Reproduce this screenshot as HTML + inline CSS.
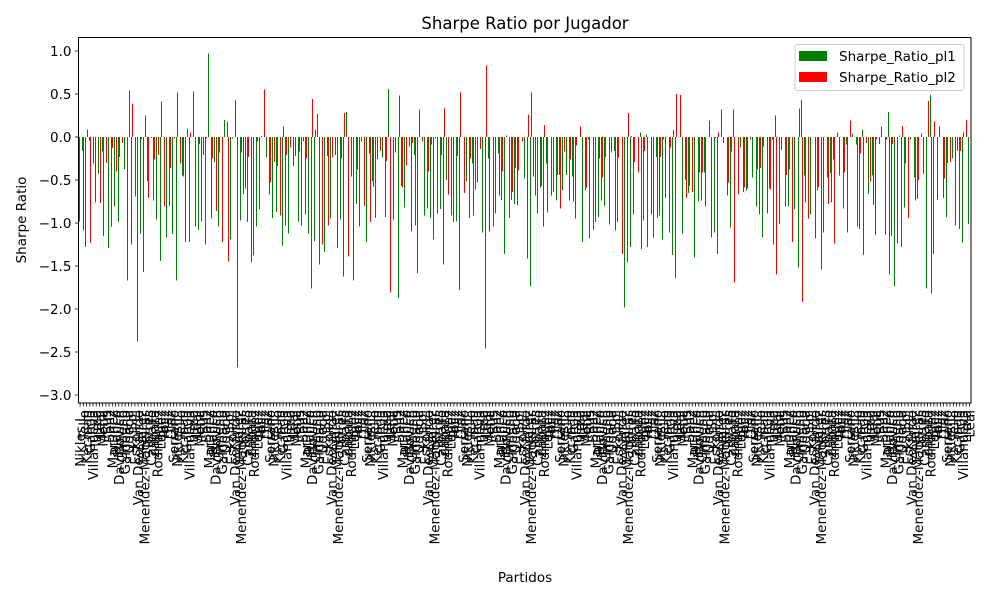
<!DOCTYPE html>
<html><head><meta charset="utf-8">
<style>
body{margin:0;background:#fff;}
svg{display:block;font-family:"DejaVu Sans","Liberation Sans",sans-serif;}
</style></head>
<body>
<svg id="chart" width="1000" height="600" viewBox="0 0 1000 600" xmlns="http://www.w3.org/2000/svg">
<rect width="1000" height="600" fill="#fff"/>
<text x="525" y="29" font-size="16.5" text-anchor="middle" fill="#000">Sharpe Ratio por Jugador</text>
<text x="0" y="0" font-size="13.5" text-anchor="middle" transform="translate(26,220) rotate(-90)">Sharpe Ratio</text>
<text x="525" y="582" font-size="13.5" text-anchor="middle">Partidos</text>
<g id="bars" shape-rendering="crispEdges"></g>
<g id="xticks"></g>
<g id="yticks"></g>
<rect x="78.5" y="37.5" width="892.5" height="365.5" fill="none" stroke="#000" stroke-width="1"/>
<g>
<rect x="795" y="44.5" width="169" height="46" rx="2" fill="#fff" fill-opacity="0.8" stroke="#ccc"/>
<rect x="799" y="51" width="28" height="10" fill="#008000"/>
<text x="839" y="61" font-size="13.5">Sharpe_Ratio_pl1</text>
<rect x="799" y="72" width="28" height="10" fill="#ff0000"/>
<text x="839" y="82" font-size="13.5">Sharpe_Ratio_pl2</text>
</g>
</svg>
<script>
const pl1 = [-0.98,-0.16,-1.28,-0.04,0,-0.76,-0.43,-0.17,0,-1.29,-1.04,-0.81,-0.99,0,-0.37,-1.67,-1.25,0,-2.38,-1.12,-1.57,-0.51,0,-0.74,-0.96,-1.44,0,-1.17,-0.80,-1.13,-1.67,0,-0.45,-1.22,-1.22,0,-1.04,-1.08,-0.98,-1.25,0.97,-0.95,-0.29,-1.04,0,0.20,0.18,-1.19,0,-2.68,-0.97,-0.66,-0.99,0,-1.38,-1.04,-0.84,0,-0.23,-0.67,-0.94,-0.87,
0,-1.26,-1.03,-1.12,0,-0.22,-0.98,-1.03,-0.90,-1.12,-1.76,-1.21,0.27,0,-1.34,-0.22,-0.95,0,-1.29,-0.96,-1.62,0.29,0,-1.67,-0.78,-1.04,0,-1.22,-0.19,-0.51,-0.94,0,-0.24,-0.93,0.56,0,-0.18,-1.87,-0.57,-0.82,0,-1.10,-0.21,-1.58,0,-0.91,-0.83,-0.94,-1.19,-0.89,-0.84,-1.48,-0.50,0,-0.99,-0.98,-1.78,0,-0.51,-0.94,-0.31,-0.61,0,-1.11,-2.46,-0.25,0,-0.89,-0.19,-0.73,-1.36,
0,-0.73,-0.78,-0.79,0,-0.48,-1.41,-1.74,-0.46,-0.89,-0.59,-1.04,-0.31,0,-0.64,-0.74,-0.44,-0.62,-0.44,-0.74,-0.46,-0.95,0,-1.22,-0.62,-0.03,0,-0.99,-0.93,-0.74,-0.80,0,-0.18,-0.16,-0.99,0,-1.98,-1.46,-1.28,-0.90,0,0.05,-0.97,0.03,0,-1.17,-0.23,-0.91,-1.19,-0.71,-1.11,-1.37,-1.64,0,-1.12,-0.50,-0.65,0,-1.40,-0.75,-0.74,-0.41,0,-1.17,-1.11,-1.36,0,-0.07,-0.68,-1.05,
0.32,0,-0.12,-0.64,-0.62,0,-0.47,-0.81,-0.90,-1.16,0,-0.60,-0.03,0.25,0,-0.15,-0.81,-0.80,0,-0.84,-1.52,0.43,-0.45,0,-0.90,0,-0.62,0,-1.11,-0.47,-0.42,-0.26,0,-0.45,-0.83,-0.09,0,0.04,-0.09,-1.07,0.09,0,-0.66,-0.45,-1.14,0,0.12,-1.14,0.29,-1.15,-1.74,-1.24,-1.28,-0.82,0,-0.03,-0.47,-0.72,0,-0.43,-1.76,0.49,-1.36,0,0.12,-0.71,-0.93,0,-0.25,-1.03,-1.07,-1.23,0,-1.01];
const pl2 = [0,-1.09,0.09,-1.23,-0.31,0,-0.77,-1.15,-0.30,0,-0.13,-0.40,-0.23,-0.07,0,0.54,0.39,-0.69,0,-0.03,0.25,-0.71,-0.01,-0.26,-0.21,0.41,-0.81,0,-0.36,-0.02,0.52,-0.31,-0.46,0.10,0.05,0.53,0,-0.08,-0.21,-0.02,0,-0.25,-0.86,-0.18,-1.22,0,-1.45,-0.02,0.43,0,-0.18,-0.60,-0.23,-1.46,0,-0.05,0.01,0.55,0,-0.53,-0.29,-0.34,
-0.91,0.12,-0.21,-0.12,-0.34,0,-0.17,-0.05,-0.25,0,0.44,0.09,-1.48,-1.25,0,-1.03,-0.24,-0.21,0,-0.25,0.28,-1.39,-0.46,0,-0.38,-0.05,-0.80,0,-0.99,-0.58,-0.26,-0.16,0,-0.28,-1.81,-0.96,0,0.48,-0.59,-0.33,-0.11,-0.07,-1.03,0.32,-0.05,0,-0.40,-0.09,-0.02,0,-0.21,0.33,-0.67,-0.91,0,-0.22,0.52,-0.65,0,-0.25,-0.91,-0.53,-0.14,0,0.83,-1.10,-1.04,0,-0.68,-0.40,0.02,
-0.94,-0.64,-0.36,-0.39,-0.05,0,0.26,0.52,-0.68,0,-0.57,0.14,-0.88,-0.68,0,-0.44,-0.83,-0.17,0,-0.26,-0.75,-0.10,0.12,0,-0.59,-1.18,-1.08,0,-0.25,-0.47,-0.23,-1.02,0,-1.09,-0.24,-1.36,0,0.28,0.01,-0.29,-0.41,-1.30,-0.16,-1.28,-0.90,0,-0.94,-0.23,-0.03,0,-0.12,0.08,0.50,0.49,0,-0.71,-0.57,-0.64,0,-0.41,-0.41,-0.81,0.19,0,-0.01,0.05,0.32,0,-0.53,-0.17,
-1.69,-0.67,0,-0.59,-0.60,-0.03,0,-0.38,-0.36,-0.11,-0.89,-0.61,-1.25,-1.60,-1.01,0,-0.44,-0.38,-1.22,0,0.33,-1.92,-0.76,-0.95,0,-1.18,-0.58,-1.54,0,-0.78,-0.76,-1.24,0.05,0,-0.41,-1.11,0.19,0,-1.04,-0.19,-1.37,-0.07,-0.52,-0.79,-0.03,-0.08,0,-0.03,-1.60,-0.08,0,0.02,0.13,-0.31,-0.94,0,-0.74,-0.50,0.04,0,0.42,-1.82,0.18,-0.73,0,-0.48,-0.30,-0.29,0,-0.16,-0.16,0.05,0.20,0];
const nameList = ["Nikles L.","Gimeno","Ruiz","Sanz","Carballo","Lima","Van De Zande","Tello","Galdeano","Paz","Martinez","Zapata","Leal","Alvarez","Kecman","Ugeda","Diaz","Blanco","Rodriguez","Mena","Menendez-Maceiras","Garcia","Sol","Serrano","Davidovich","Lopez","Rus","Torres","Villanueva","Eskoll L."];
const categories = pl1.map((_, i) => nameList[(i * 7) % nameList.length]);
const yTicks = [1.0,0.5,0.0,-0.5,-1.0,-1.5,-2.0,-2.5,-3.0];
const yTickLabels = ["1.0","0.5","0.0","\u22120.5","\u22121.0","\u22121.5","\u22122.0","\u22122.5","\u22123.0"];

const NS = "http://www.w3.org/2000/svg";
const L = 78.5, R = 971, T = 37.5, B = 403;
const n = pl1.length;
const step = (R - L) / n;
function xScale(i){ return L + (i + 0.5) * step; }
function yScale(v){ return 137 - v * 86; }

const barsG = document.getElementById('bars');
function addBar(i, v, color, off, series){
  const r = document.createElementNS(NS, 'rect');
  const y0 = yScale(0), y1 = yScale(v);
  r.setAttribute('x', Math.round(xScale(i) + off - 0.5));
  r.setAttribute('y', Math.min(y0, y1));
  r.setAttribute('width', 1);
  r.setAttribute('height', Math.max(Math.abs(y1 - y0), 0.01));
  r.setAttribute('fill', color);
  
  
  barsG.appendChild(r);
}
for (let i = 0; i < n; i++){
  addBar(i, pl1[i], '#008000', -0.6, 'pl1');
  addBar(i, pl2[i] === undefined ? 0 : pl2[i], '#ff0000', 0.6, 'pl2');
}

const xt = document.getElementById('xticks');
for (let i = 0; i < n; i++){
  const x = xScale(i);
  const ln = document.createElementNS(NS, 'line');
  ln.setAttribute('x1', x); ln.setAttribute('x2', x);
  ln.setAttribute('y1', B); ln.setAttribute('y2', B + 3.5);
  ln.setAttribute('stroke', '#000'); ln.setAttribute('stroke-width', '0.8');
  
  
  xt.appendChild(ln);
  const t = document.createElementNS(NS, 'text');
  t.setAttribute('font-size', '13.5');
  t.setAttribute('text-anchor', 'end');
  t.setAttribute('transform', 'translate(' + (x + 5) + ',' + (B + 7) + ') rotate(-90)');
  t.textContent = categories[i];
  
  
  xt.appendChild(t);
}

const yt = document.getElementById('yticks');
yTicks.forEach((v, k) => {
  const y = yScale(v);
  const ln = document.createElementNS(NS, 'line');
  ln.setAttribute('x1', L - 3.5); ln.setAttribute('x2', L);
  ln.setAttribute('y1', y); ln.setAttribute('y2', y);
  ln.setAttribute('stroke', '#000'); ln.setAttribute('stroke-width', '0.8');
  
  
  yt.appendChild(ln);
  const t = document.createElementNS(NS, 'text');
  t.setAttribute('x', L - 7);
  t.setAttribute('y', y + 5);
  t.setAttribute('font-size', '13.5');
  t.setAttribute('text-anchor', 'end');
  t.textContent = yTickLabels[k];
  
  
  yt.appendChild(t);
});
</script>
</body></html>
